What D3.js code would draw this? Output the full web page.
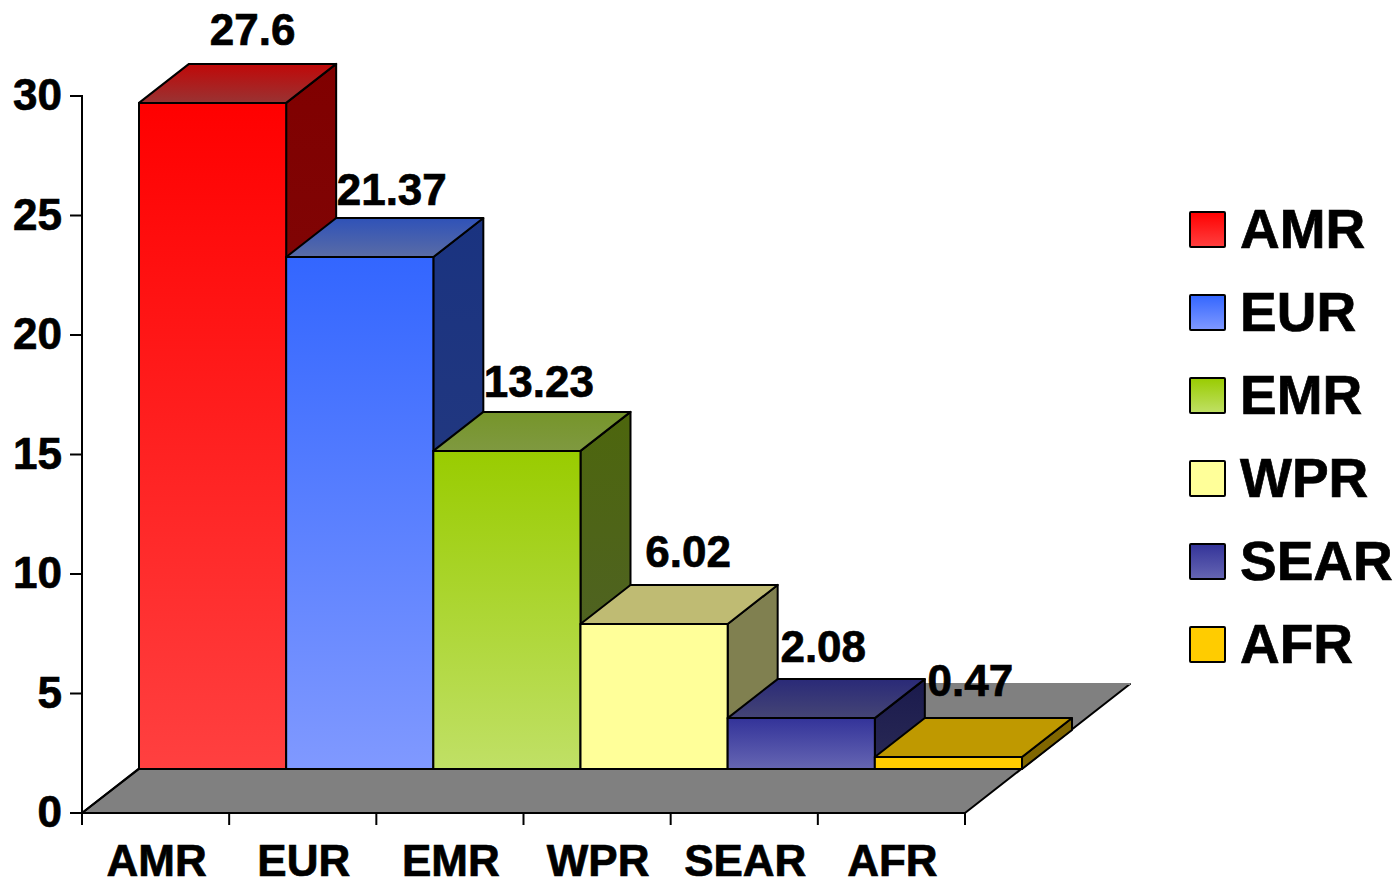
<!DOCTYPE html>
<html>
<head>
<meta charset="utf-8">
<script src="https://cdn.jsdelivr.net/npm/d3@7"></script>
<style>
html,body{margin:0;padding:0;background:#fff;overflow:hidden}
text{font-family:"Liberation Sans",Arial,sans-serif;font-weight:bold;fill:#000;stroke:#000;stroke-width:0.7px}
</style>
</head>
<body>
<svg id="chart" width="1395" height="879"></svg>
<script>
const categories = ["AMR","EUR","EMR","WPR","SEAR","AFR"];
// Bar heights as read against the value axis
const barValues = [27.87, 21.42, 13.31, 6.07, 2.13, 0.5];
// Data labels printed on the chart
const dataLabels = ["27.6","21.37","13.23","6.02","2.08","0.47"];
const yTicks = [0,5,10,15,20,25,30];
const frontTop = ["#ff0000","#3366ff","#99cc00","#ffff99","#333399","#ffcc00"];
const frontBottom = ["#ff4040","#8099ff","#c0e066","#ffff99","#6666b3","#ffcc00"];
const topBack = ["#c00808","#2f52b8","#76952a","#bfbb73","#2a2a78","#bf9900"];
const topFront = ["#993333","#5a6ca6","#7f9940","#bfbb73","#454575","#bf9900"];
const sideTop = ["#800000","#1a3380","#4d660d","#808050","#1a1a4d","#806600"];
const sideBottom = ["#7f1010","#2a3d80","#50602e","#808050","#2a2a55","#806600"];
const labelDx = [40,32,32,34,22,22];
const labelDy = [58,52,54,57,56,61];

const svg = d3.select("#chart");
const x = d3.scaleBand().domain(categories).range([82,965]).padding(0);
const y = d3.scaleLinear().domain([0,30]).range([813,96]);
const floorD = {dx:57, dy:-44};   // where the bars stand on the floor
const barD = {dx:50, dy:-39};     // bar depth
const backD = {dx:165, dy:-129};  // full floor depth
const barBaseY = v => y(v) + floorD.dy;
const pts = a => a.map(p => p.join(",")).join(" ");

const defs = svg.append("defs");
function grad(id,c1,c2){
  const g = defs.append("linearGradient").attr("id",id)
    .attr("x1",0).attr("y1",0).attr("x2",0).attr("y2",1);
  g.append("stop").attr("offset","0%").attr("stop-color",c1);
  g.append("stop").attr("offset","100%").attr("stop-color",c2);
}
categories.forEach((c,i)=>{
  grad("f"+i,frontTop[i],frontBottom[i]);
  grad("t"+i,topBack[i],topFront[i]);
  grad("s"+i,sideTop[i],sideBottom[i]);
});

// floor
svg.append("polygon")
  .attr("points",pts([[82,y(0)],[965,y(0)],[965+backD.dx,y(0)+backD.dy],[82+backD.dx,y(0)+backD.dy]]))
  .attr("fill","#808080").attr("stroke","#000").attr("stroke-width",2).attr("stroke-linejoin","round");
svg.append("line")
  .attr("x1",82+backD.dx).attr("x2",965+backD.dx).attr("y1",y(0)+backD.dy).attr("y2",y(0)+backD.dy)
  .attr("stroke","#808080").attr("stroke-width",2);
svg.append("line")
  .attr("x1",82).attr("y1",y(0)).attr("x2",82+floorD.dx).attr("y2",y(0)+floorD.dy)
  .attr("stroke","#000").attr("stroke-width",2);
svg.append("line")
  .attr("x1",82+floorD.dx).attr("x2",965+floorD.dx).attr("y1",y(0)+floorD.dy).attr("y2",y(0)+floorD.dy)
  .attr("stroke","#000").attr("stroke-width",2);

// bars
const bars = svg.selectAll("g.bar").data(categories).join("g").attr("class","bar");
bars.each(function(c,i){
  const g = d3.select(this);
  const l = x(c)+floorD.dx, r = l + x.bandwidth();
  const t = barBaseY(barValues[i]), b = barBaseY(0);
  const common = s => s.attr("stroke","#000").attr("stroke-width",2).attr("stroke-linejoin","round");
  common(g.append("polygon").attr("points",pts([[r,t],[r+barD.dx,t+barD.dy],[r+barD.dx,b+barD.dy],[r,b]])).attr("fill",`url(#s${i})`));
  common(g.append("polygon").attr("points",pts([[l,t],[r,t],[r+barD.dx,t+barD.dy],[l+barD.dx,t+barD.dy]])).attr("fill",`url(#t${i})`));
  common(g.append("rect").attr("x",l).attr("y",t).attr("width",r-l).attr("height",b-t).attr("fill",`url(#f${i})`));
});

// axes
const yAxis = d3.axisLeft(y).tickValues(yTicks).tickSize(12).tickPadding(8).offset(0);
const gy = svg.append("g").attr("transform","translate(82,0)").call(yAxis);
gy.selectAll("text").style("font-size","44px").attr("dy","0.32em");
const edges = d3.range(categories.length+1).map(i => i===categories.length ? 965 : x(categories[i]));
const xAxis = d3.axisBottom(d3.scaleLinear().domain([82,965]).range([82,965]))
  .tickValues(edges).tickSize(12).tickFormat("").offset(0);
const gx = svg.append("g").attr("transform",`translate(0,${y(0)})`).call(xAxis);
[gy,gx].forEach(g=>{
  g.select(".domain").attr("stroke","#000").attr("stroke-width",2);
  g.selectAll(".tick line").attr("stroke","#000").attr("stroke-width",2);
});
svg.selectAll("text.xlab").data(categories).join("text").attr("class","xlab")
  .attr("x",c=>x(c)+x.bandwidth()/2+1).attr("y",876)
  .attr("text-anchor","middle").style("font-size","44px").text(c=>c);

// data labels
svg.selectAll("text.val").data(dataLabels).join("text").attr("class","val")
  .attr("x",(d,i)=>x(categories[i])+floorD.dx+x.bandwidth()/2+labelDx[i])
  .attr("y",(d,i)=>barBaseY(barValues[i])-labelDy[i])
  .attr("text-anchor","middle").style("font-size","44px").text(d=>d);

// legend
const leg = svg.selectAll("g.leg").data(categories).join("g").attr("class","leg")
  .attr("transform",(c,i)=>`translate(1190,${212+i*83})`);
leg.append("rect").attr("width",35).attr("height",35).attr("rx",1)
  .attr("fill",(c,i)=>`url(#f${i})`).attr("stroke","#000").attr("stroke-width",2);
leg.append("text").attr("x",50).attr("y",36).style("font-size","55px").text(c=>c);
</script>
</body>
</html>
